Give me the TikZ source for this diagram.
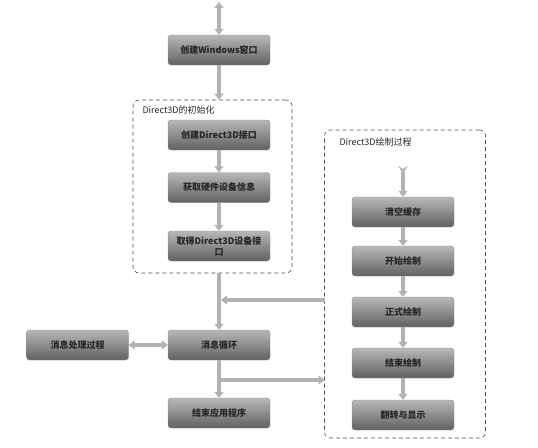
\documentclass[tikz,border=0pt]{standalone}
\usepackage{fontspec}
\setmainfont{Noto Sans CJK SC}
\usetikzlibrary{arrows.meta,shadings}
\begin{document}
\begin{tikzpicture}[x=1pt,y=-1pt,
  box/.style={rounded corners=3pt, top color=black!28, bottom color=black!62,
    draw=black!45, line width=0.4pt, minimum width=102pt, minimum height=30pt,
    inner sep=1pt, font=\bfseries\fontsize{9}{10.5}\selectfont, text=black!85},
  grp/.style={draw=black!70, dashed, dash pattern=on 4pt off 3pt, rounded corners=6pt, line width=0.6pt},
  grplabel/.style={anchor=west, font=\fontsize{9}{10}\selectfont, text=black!85},
  arr/.style={draw=black!30, line width=3.6pt, -{Triangle[length=6pt,width=9pt]}},
  darr/.style={draw=black!30, line width=3.6pt, {Triangle[length=6pt,width=9pt]}-{Triangle[length=6pt,width=9pt]}}
]
\useasboundingbox (0,0) rectangle (538,447);

% top
\coordinate (top) at (219,2);
\node[box] (w) at (219,50) {创建Windows窗口};

% group 1
\node[grp, minimum width=159pt, minimum height=173pt] (d1) at (212.5,186.5) {};
\node[grplabel] (l1) at (139,110) {Direct3D的初始化};
\node[box] (a1) at (219,135) {创建Direct3D接口};
\node[box] (a2) at (219,187.5) {获取硬件设备信息};
\node[box, align=center, font=\bfseries\fontsize{9}{11}\selectfont] (a3) at (219,246) {取得Direct3D设备接\\口};

% main column
\node[box] (m) at (219,345) {消息循环};
\node[box] (p) at (77.5,345) {消息处理过程};
\node[box] (e) at (219,413) {结束应用程序};

% group 2
\node[grp, minimum width=161pt, minimum height=308pt] (d2) at (405,284) {};
\node[grplabel] (l2) at (336,142) {Direct3D绘制过程};
\coordinate (in2) at (403,166);
\node[box] (b1) at (403,212) {清空缓存};
\node[box] (b2) at (403,261) {开始绘制};
\node[box] (b3) at (403,312) {正式绘制};
\node[box] (b4) at (403,363) {结束绘制};
\node[box] (b5) at (403,415) {翻转与显示};

\coordinate (r1) at (324.5,300);
\coordinate (j1) at (219,300);
\coordinate (j2) at (219,380);
\coordinate (r2) at (324.5,380);

% connectors
\draw[darr] (top) -- (w.north);
\draw[arr] (w.south) -- (w.south |- d1.north);
\draw[arr] (a1) -- (a2);
\draw[arr] (a2) -- (a3);
\draw[arr] (m.north |- d1.south) -- (m.north);
\draw[arr] (r1) -- ([xshift=2pt]j1);
\draw[darr] (p) -- (m);
\draw[arr] (m) -- (e);
\draw[arr] ([xshift=-1.8pt]j2) -- (r2);
\draw[draw=black!30, line width=3.6pt, {Stealth[reversed,length=7pt,width=10pt,inset=3pt]}-{Triangle[length=6pt,width=9pt]}] (in2) -- (b1.north);
\draw[arr] (b1) -- (b2);
\draw[arr] (b2) -- (b3);
\draw[arr] (b3) -- (b4);
\draw[arr] (b4) -- (b5);
\end{tikzpicture}
\end{document}
